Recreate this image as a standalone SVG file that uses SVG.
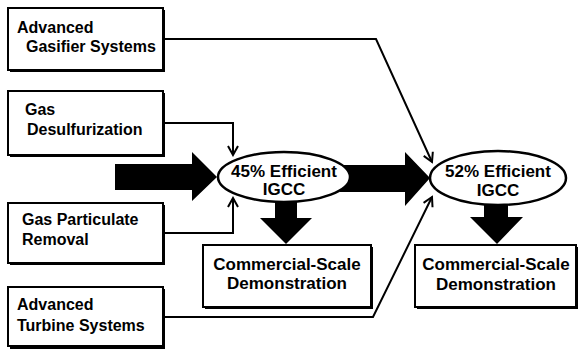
<svg xmlns="http://www.w3.org/2000/svg" width="579" height="349" viewBox="0 0 579 349">
<style>
.box{fill:#fff;stroke:#000;stroke-width:2}
.shadow{fill:#000}
.t{font-family:"Liberation Sans",Arial,sans-serif;font-weight:bold;font-size:16px;fill:#000}
.c{text-anchor:middle;font-size:17px}
.line{fill:none;stroke:#000;stroke-width:2}
.big{fill:#000}
</style>
<defs>
<marker id="ah" markerWidth="12" markerHeight="12" refX="10" refY="6" orient="auto" markerUnits="userSpaceOnUse">
<path d="M1,1 L10,6 L1,11" fill="none" stroke="#000" stroke-width="2"/>
</marker>
</defs>
<g id="connectors">
<polyline class="line" points="163,39 376,39 432,162" marker-end="url(#ah)"/>
<polyline class="line" points="163,123 233,123 233,155" marker-end="url(#ah)"/>
<polyline class="line" points="163,233 233,233 233,198" marker-end="url(#ah)"/>
<polyline class="line" points="163,317 373,317 432,197" marker-end="url(#ah)"/>
<polygon class="big" points="115,164 192,164 192,152 217,177 192,201 192,190 115,190"/>
<polygon class="big" points="340,165 405,165 405,152 430,178 405,206 405,192 340,192"/>
<polygon class="big" points="275,195 297,195 297,218 312,218 286,244 260,218 275,218"/>
<polygon class="big" points="484,195 508,195 508,217 523,217 497,244 470,217 484,217"/>
</g>
<g id="gasifier">
<rect class="shadow" x="10" y="10" width="155" height="62"/>
<rect class="box" x="8" y="8" width="155" height="62"/>
<text class="t" x="17" y="33">Advanced</text>
<text class="t" x="26" y="52">Gasifier Systems</text>
</g>
<g id="desulfurization">
<rect class="shadow" x="10" y="93" width="155" height="64"/>
<rect class="box" x="8" y="91" width="155" height="64"/>
<text class="t" x="25" y="115">Gas</text>
<text class="t" x="27" y="135">Desulfurization</text>
</g>
<g id="particulate">
<rect class="shadow" x="10" y="205" width="155" height="60"/>
<rect class="box" x="8" y="203" width="155" height="60"/>
<text class="t" x="22" y="225">Gas Particulate</text>
<text class="t" x="22" y="245">Removal</text>
</g>
<g id="turbine">
<rect class="shadow" x="10" y="289" width="155" height="60"/>
<rect class="box" x="8" y="287" width="155" height="59"/>
<text class="t" x="17" y="310">Advanced</text>
<text class="t" x="17" y="331">Turbine Systems</text>
</g>
<g id="igcc45">
<ellipse cx="284" cy="177" rx="66" ry="25" fill="#fff" stroke="#000" stroke-width="2.5"/>
<text class="t c" x="284" y="177">45% Efficient</text>
<text class="t c" x="284" y="195">IGCC</text>
</g>
<g id="igcc52">
<ellipse cx="498" cy="178" rx="68" ry="27" fill="#fff" stroke="#000" stroke-width="2.5"/>
<text class="t c" x="498" y="177">52% Efficient</text>
<text class="t c" x="498" y="196">IGCC</text>
</g>
<g id="demo1">
<rect class="shadow" x="205" y="247" width="168" height="62"/>
<rect class="box" x="203" y="245" width="168" height="62"/>
<text class="t c" x="287" y="270">Commercial-Scale</text>
<text class="t c" x="287" y="289">Demonstration</text>
</g>
<g id="demo2">
<rect class="shadow" x="417" y="247" width="161" height="62"/>
<rect class="box" x="415" y="245" width="161" height="62"/>
<text class="t c" x="496" y="270">Commercial-Scale</text>
<text class="t c" x="496" y="290">Demonstration</text>
</g>
</svg>
